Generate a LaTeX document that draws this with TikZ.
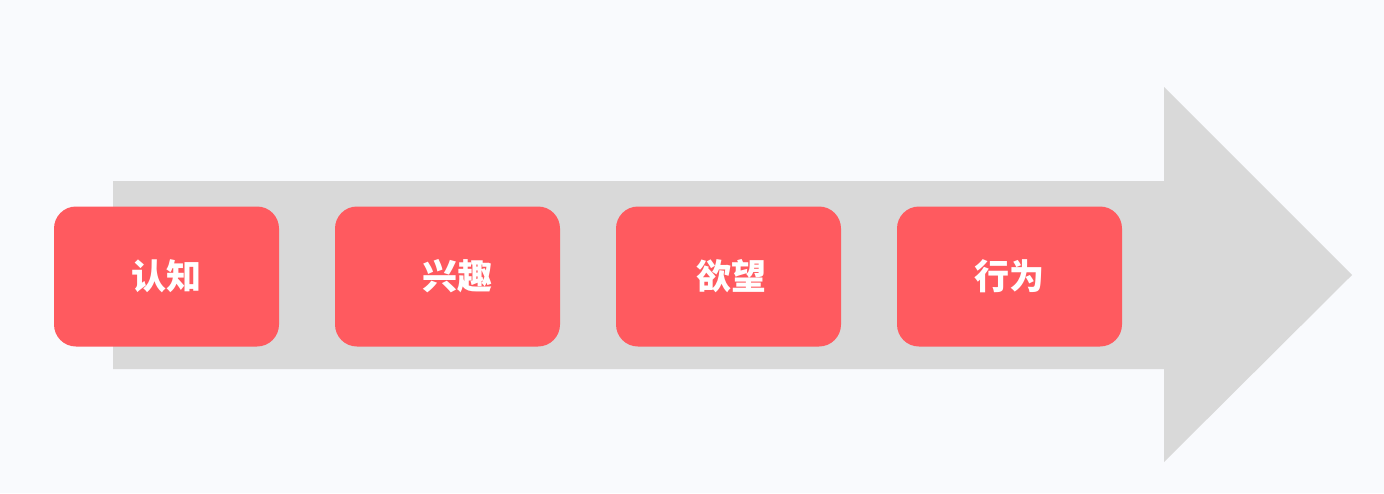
\documentclass[tikz,border=0pt]{standalone}
\usepackage{fontspec}
\newfontfamily\cjk{Noto Sans CJK SC}
\definecolor{bgwhite}{RGB}{249,250,253}
\definecolor{arrowgray}{RGB}{217,217,217}
\definecolor{boxred}{RGB}{255,90,95}
\begin{document}
\begin{tikzpicture}[x=1pt, y=-1pt, node distance={281pt}, main/.style = {fill=boxred, rounded corners=22pt, minimum width=225pt, minimum height=140pt, inner sep=0pt, text=white, font=\cjk\bfseries\fontsize{35}{40}\selectfont}] 
\fill[bgwhite] (0,0) rectangle (1384,493);
\useasboundingbox (0,0) rectangle (1384,493);
\fill[arrowgray] (113,181) -- (1164,181) -- (1164,87) -- (1352,275) -- (1164,462) -- (1164,369) -- (113,369) -- cycle;
\node[main] (1) at (166.5,276.5) {认知}; 
\node[main] (2) [right of=1] {\hspace{19pt}兴趣};
\node[main] (3) [right of=2] {\hspace{6pt}欲望};
\node[main] (4) [right of=3] {行为};
\end{tikzpicture}
\end{document}
